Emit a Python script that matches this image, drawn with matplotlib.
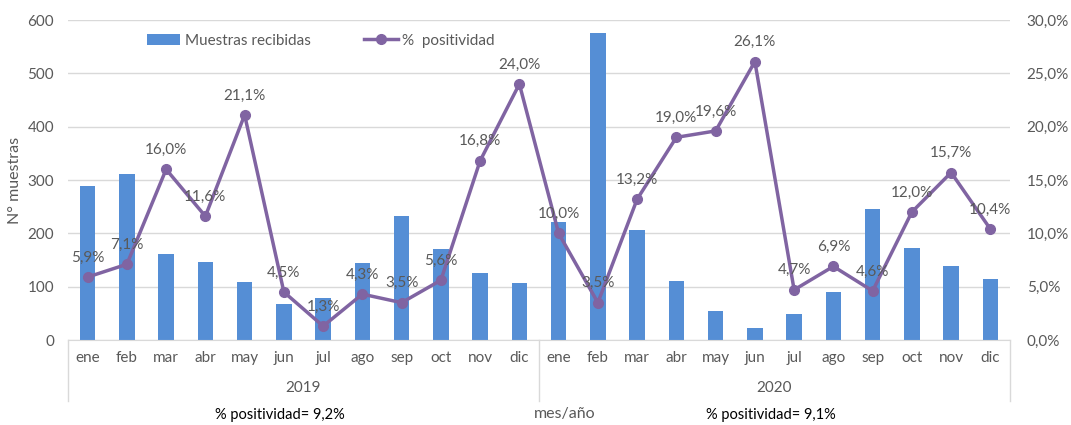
import matplotlib.pyplot as plt
import numpy as np
from matplotlib.ticker import FuncFormatter

# Data
meses = ["ene", "feb", "mar", "abr", "may", "jun", "jul", "ago", "sep", "oct", "nov", "dic"]
anios = ["2019", "2020"]
muestras_2019 = [289, 311, 161, 146, 109, 68, 79, 144, 233, 171, 126, 107]
muestras_2020 = [222, 576, 206, 111, 54, 22, 48, 90, 246, 172, 139, 114]
positividad_2019 = [5.9, 7.1, 16.0, 11.6, 21.1, 4.5, 1.3, 4.3, 3.5, 5.6, 16.8, 24.0]
positividad_2020 = [10.0, 3.5, 13.2, 19.0, 19.6, 26.1, 4.7, 6.9, 4.6, 12.0, 15.7, 10.4]
resumen = ["% positividad= 9,2%", "% positividad= 9,1%"]

muestras = muestras_2019 + muestras_2020
positividad = positividad_2019 + positividad_2020
etiquetas = meses * 2

azul = "#558ED5"
morado = "#8064A2"
gris = "#595959"

plt.rcParams['font.family'] = ['Lato', 'DejaVu Sans']

fig = plt.figure(figsize=(10.71, 4.25), dpi=100)
ax = fig.add_axes([68 / 1071, 85 / 425, 942 / 1071, 320 / 425])
ax2 = ax.twinx()

x = np.arange(len(muestras))
ax.bar(x, muestras, width=0.4, color=azul, zorder=2, label="Muestras recibidas")
ax.set_ylim(0, 600)
ax.set_xlim(-0.5, len(muestras) - 0.5)
ax.set_yticks(range(0, 601, 100))
ax.yaxis.grid(True, color="#D9D9D9", linewidth=1)
ax.set_axisbelow(True)
ax.set_ylabel("N° muestras", color=gris, fontsize=11.5)
ax.tick_params(axis="y", colors=gris, labelsize=11, length=0, pad=10)
ax.set_xticks(x)
ax.set_xticklabels(etiquetas, color=gris, fontsize=11)
ax.tick_params(axis="x", length=0, pad=8)
for s in ["top", "left", "right"]:
    ax.spines[s].set_visible(False)
ax.spines["bottom"].set_color("#D9D9D9")

ax2.plot(x, positividad, color=morado, linewidth=2.5, marker="o", markersize=7,
         zorder=3, label="%  positividad")
ax2.set_ylim(0, 30)
ax2.set_yticks(range(0, 31, 5))
ax2.yaxis.set_major_formatter(FuncFormatter(lambda v, p: f"{v:.1f}%".replace(".", ",")))
ax2.tick_params(axis="y", colors=gris, labelsize=11, length=0, pad=12)
for s in ["top", "left", "right", "bottom"]:
    ax2.spines[s].set_visible(False)

for xi, v in zip(x, positividad):
    ax2.annotate(f"{v:.1f}%".replace(".", ","), (xi, v), xytext=(0, 9),
                 textcoords="offset points", ha="center", va="bottom",
                 color=gris, fontsize=11)

# multi-level axis: year groups
trans = ax.get_xaxis_transform()
for xs in [-0.5, 11.5, 23.5]:
    ax.plot([xs, xs], [0, -0.19], transform=trans, color="#D9D9D9",
            linewidth=1, clip_on=False)
for i, anio in enumerate(anios):
    ax.text(5.5 + 12 * i, -0.15, anio, transform=trans, ha="center", va="center",
            color=gris, fontsize=11)
resumen_x = [4.9, 17.4]
for i, txt in enumerate(resumen):
    ax.text(resumen_x[i], -0.235, txt, transform=trans, ha="center",
            va="center", color="black", fontsize=10.5)
ax.text(12.16, -0.23, "mes/año", transform=trans, ha="center", va="center",
        color=gris, fontsize=11.5)

h1, l1 = ax.get_legend_handles_labels()
h2, l2 = ax2.get_legend_handles_labels()
ax.legend(h1 + h2, l1 + l2, loc="upper left", bbox_to_anchor=(0.069, 1.0), ncol=2,
          frameon=False, fontsize=11, labelcolor=gris, columnspacing=3.5,
          handlelength=2.2, handletextpad=0.3)

fig.savefig("out.png", dpi=100)
